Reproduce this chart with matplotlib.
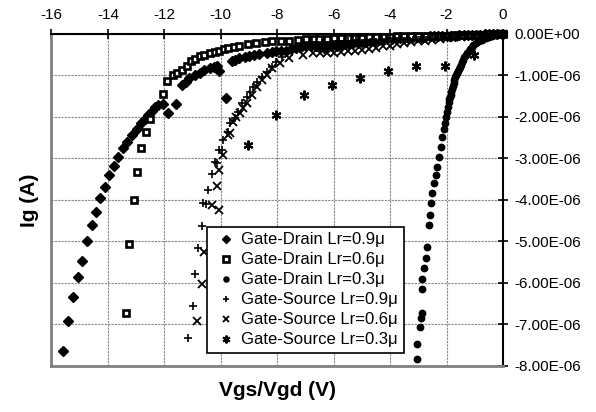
import matplotlib
matplotlib.use("Agg")
import matplotlib.pyplot as plt
from matplotlib.ticker import FuncFormatter, MultipleLocator

plt.rcParams['font.family'] = ['Liberation Sans', 'DejaVu Sans']

# gate current data, Ig in uA, V in volts
gd09_v = [-15.6, -15.4, -15.25, -15.07, -14.93, -14.75, -14.57, -14.43, -14.29, -14.1,
          -13.96, -13.79, -13.64, -13.46, -13.32, -13.14, -12.96, -12.82, -12.68, -12.57,
          -12.43, -12.32, -12.21, -12.04, -11.86, -11.6, -11.39, -11.25, -11.11, -10.93,
          -10.75, -10.58, -10.4, -10.25, -10.12, -10.05, -9.8, -9.62, -9.48, -9.34,
          -9.16, -8.99, -8.81, -8.63, -8.38, -8.2, -8.03, -7.85, -7.68, -7.5,
          -7.32, -7.15, -6.97, -6.8, -6.62, -6.5, -6.35, -6.2, -6.05, -5.9,
          -5.75, -5.6, -5.45, -5.3, -5.15, -5.0, -4.85, -4.7, -4.55, -4.4,
          -4.25, -4.1, -3.95, -3.8, -3.65, -3.5, -3.35, -3.2, -3.05, -2.9,
          -2.75, -2.6, -2.45, -2.3, -2.15, -2.0, -1.85, -1.7, -1.55, -1.4,
          -1.25, -1.1, -0.95, -0.8, -0.65, -0.5, -0.35, -0.2, -0.05]
gd09_i = [-7.64, -6.92, -6.34, -5.86, -5.47, -4.99, -4.6, -4.29, -3.95, -3.69,
          -3.4, -3.18, -2.96, -2.75, -2.6, -2.43, -2.29, -2.14, -2.05, -1.95,
          -1.86, -1.76, -1.71, -1.69, -1.9, -1.69, -1.24, -1.15, -1.07, -1.0,
          -0.95, -0.88, -0.83, -0.8, -0.78, -0.9, -1.55, -0.66, -0.62, -0.59,
          -0.56, -0.54, -0.51, -0.49, -0.47, -0.44, -0.42, -0.41, -0.4, -0.37,
          -0.35, -0.32, -0.3, -0.29, -0.28, -0.3, -0.33, -0.31, -0.29, -0.28,
          -0.27, -0.25, -0.24, -0.22, -0.21, -0.2, -0.19, -0.17, -0.16, -0.15,
          -0.14, -0.13, -0.12, -0.11, -0.1, -0.1, -0.09, -0.08, -0.08, -0.07,
          -0.07, -0.06, -0.06, -0.05, -0.05, -0.04, -0.04, -0.04, -0.03, -0.03,
          -0.03, -0.02, -0.02, -0.02, -0.01, -0.01, -0.01, 0.0, 0.0]

gd06_v = [-13.36, -13.25, -13.07, -12.96, -12.82, -12.64, -12.5, -12.06, -11.92, -11.71,
          -11.55, -11.39, -11.2, -11.04, -10.9, -10.75, -10.6, -10.4, -10.2, -10.05,
          -9.9, -9.76, -9.55, -9.34, -9.05, -8.74, -8.45, -8.17, -7.85, -7.57,
          -7.25, -6.97, -6.7, -6.51, -6.25, -6.0, -5.75, -5.5, -5.25, -5.0,
          -4.75, -4.5, -4.25, -4.0, -3.75, -3.5, -3.25, -3.0, -2.75, -2.5,
          -2.25, -2.0, -1.75, -1.5, -1.25, -1.0, -0.75, -0.5, -0.25, 0.0]
gd06_i = [-6.72, -5.06, -4.0, -3.33, -2.75, -2.36, -2.05, -1.45, -1.14, -1.0,
          -0.95, -0.88, -0.78, -0.66, -0.6, -0.54, -0.5, -0.47, -0.43, -0.4,
          -0.37, -0.35, -0.31, -0.28, -0.25, -0.23, -0.2, -0.18, -0.17, -0.16,
          -0.15, -0.13, -0.13, -0.13, -0.12, -0.11, -0.1, -0.1, -0.1, -0.09,
          -0.08, -0.08, -0.07, -0.07, -0.06, -0.06, -0.05, -0.05, -0.05, -0.04,
          -0.04, -0.04, -0.03, -0.03, -0.03, -0.02, -0.02, -0.01, -0.01, 0.0]

gd03_v = [-3.05, -3.05, -2.95, -2.91, -2.88, -2.86, -2.86, -2.8, -2.73, -2.68,
          -2.62, -2.59, -2.54, -2.51, -2.45, -2.38, -2.33, -2.27, -2.2, -2.15,
          -2.1, -2.06, -2.03, -1.99, -1.96, -1.92, -1.9, -1.88, -1.85, -1.83,
          -1.8, -1.78, -1.75, -1.72, -1.69, -1.66, -1.63, -1.6, -1.56, -1.53,
          -1.5, -1.46, -1.41, -1.37, -1.32, -1.27, -1.22, -1.17, -1.11, -1.05,
          -0.95, -0.85, -0.75, -0.62, -0.5, -0.38, -0.26, -0.15, -0.05]
gd03_i = [-7.83, -7.47, -7.06, -6.84, -6.72, -6.14, -5.9, -5.64, -5.4, -5.13,
          -4.6, -4.36, -4.07, -3.83, -3.59, -3.4, -3.2, -2.96, -2.72, -2.48,
          -2.3, -2.14, -2.0, -1.88, -1.76, -1.64, -1.58, -1.52, -1.47, -1.4,
          -1.32, -1.25, -1.18, -1.12, -1.05, -0.99, -0.94, -0.89, -0.84, -0.79,
          -0.75, -0.68, -0.62, -0.56, -0.51, -0.46, -0.41, -0.36, -0.31, -0.27,
          -0.22, -0.18, -0.14, -0.1, -0.07, -0.04, -0.02, -0.01, 0.0]

gs09_v = [-11.17, -11.0, -10.92, -10.82, -10.68, -10.64, -10.54, -10.46, -10.33, -10.19,
          -10.15, -10.05, -9.97, -9.93, -9.75, -9.68, -9.5, -9.4, -9.26, -9.08,
          -8.97, -8.86, -8.72, -8.54, -8.37, -8.2, -8.03, -7.82, -7.47, -7.2,
          -6.98, -6.7, -6.4, -6.1, -5.8, -5.5, -5.2, -4.9, -4.6, -4.3,
          -4.0, -3.7, -3.4, -3.1, -2.8, -2.5, -2.2, -1.9, -1.6, -1.3,
          -1.0, -0.75, -0.5, -0.25, 0.0]
gs09_i = [-7.33, -6.55, -5.78, -5.16, -4.63, -4.07, -4.1, -3.76, -3.38, -3.08,
          -3.11, -2.8, -2.8, -2.55, -2.36, -2.14, -2.02, -1.88, -1.66, -1.52,
          -1.4, -1.28, -1.16, -1.04, -0.92, -0.8, -0.67, -0.55, -0.43, -0.37,
          -0.31, -0.27, -0.22, -0.2, -0.18, -0.17, -0.15, -0.14, -0.13, -0.12,
          -0.11, -0.1, -0.09, -0.08, -0.07, -0.06, -0.06, -0.05, -0.04, -0.035,
          -0.03, -0.02, -0.02, -0.01, 0.0]

gs06_v = [-10.86, -10.68, -10.61, -10.33, -10.05, -10.15, -10.05, -9.93, -9.75, -9.68,
          -9.58, -9.45, -9.33, -9.2, -9.08, -8.9, -8.72, -8.54, -8.37, -8.17,
          -7.92, -7.57, -7.1, -6.75, -6.5, -6.25, -6.0, -5.75, -5.5, -5.25,
          -5.0, -4.75, -4.5, -4.25, -4.0, -3.75, -3.5, -3.25, -3.0, -2.75,
          -2.5, -2.25, -2.0, -1.75, -1.5, -1.25, -1.0, -0.75, -0.5, -0.25,
          0.0]
gs06_i = [-6.92, -6.02, -5.25, -4.12, -4.24, -3.66, -3.28, -2.92, -2.43, -2.39,
          -2.12, -2.0, -1.9, -1.78, -1.66, -1.47, -1.28, -1.11, -0.99, -0.82,
          -0.7, -0.58, -0.5, -0.47, -0.46, -0.46, -0.45, -0.44, -0.42, -0.4,
          -0.38, -0.36, -0.33, -0.3, -0.28, -0.25, -0.22, -0.2, -0.18, -0.16,
          -0.14, -0.12, -0.1, -0.08, -0.07, -0.06, -0.05, -0.03, -0.02, -0.01,
          0.0]

gs03_v = [-9.05, -8.03, -7.07, -6.05, -5.06, -4.07, -3.08, -2.06, -1.03, 0.0]
gs03_i = [-2.67, -1.95, -1.47, -1.23, -1.06, -0.89, -0.77, -0.77, -0.5, 0.0]

labels = ['Gate-Drain Lr=0.9μ', 'Gate-Drain Lr=0.6μ', 'Gate-Drain Lr=0.3μ',
          'Gate-Source Lr=0.9μ', 'Gate-Source Lr=0.6μ', 'Gate-Source Lr=0.3μ']


def amps(vals):
    return [v * 1e-6 for v in vals]


fig = plt.figure(figsize=(5.96, 4.12), dpi=100)
ax = fig.add_axes([0.0864, 0.1117, 0.7576, 0.806])

kw = dict(ls='none', clip_on=False)
ax.plot(gd09_v, amps(gd09_i), marker='D', ms=5.3, color='black', label=labels[0], **kw)
ax.plot(gd06_v, amps(gd06_i), marker='s', ms=4.6, mfc='white', mec='black',
        mew=1.9, label=labels[1], **kw)
ax.plot(gd03_v, amps(gd03_i), marker='o', ms=4.6, color='black', label=labels[2], **kw)
ax.plot(gs09_v, amps(gs09_i), marker='+', ms=6, mew=1.2, color='black', label=labels[3], **kw)
ax.plot(gs06_v, amps(gs06_i), marker='x', ms=5.5, mew=1.3, color='black', label=labels[4], **kw)
ax.plot(gs03_v, amps(gs03_i), marker=(6, 2, 0), ms=7, mew=1.5, color='black',
        label=labels[5], **kw)

ax.set_xlim(-16, 0)
ax.set_ylim(-8e-6, 0)
ax.xaxis.set_major_locator(MultipleLocator(2))
ax.yaxis.set_major_locator(MultipleLocator(1e-6))
ax.xaxis.set_major_formatter(FuncFormatter(lambda v, p: '%d' % round(v)))
ax.yaxis.set_major_formatter(FuncFormatter(lambda v, p: '{:.2E}'.format(0.0 if abs(v) < 1e-12 else v)))

ax.xaxis.tick_top()
ax.yaxis.tick_right()
ax.tick_params(axis='both', direction='inout', length=7, width=1.2, labelsize=11, color='black')
ax.tick_params(axis='x', pad=5)
ax.tick_params(axis='y', pad=5)

ax.grid(True, color='#888888', ls=(0, (2, 1)), lw=0.8)
ax.set_axisbelow(True)

for side in ['left', 'bottom']:
    ax.spines[side].set_color('#808080')
    ax.spines[side].set_linewidth(2)
for side in ['top', 'right']:
    ax.spines[side].set_color('black')
    ax.spines[side].set_linewidth(1.5)

ax.xaxis.set_label_position('bottom')
ax.yaxis.set_label_position('left')
ax.set_xlabel('Vgs/Vgd (V)', fontsize=15, fontweight='bold', labelpad=11)
ax.set_ylabel('Ig (A)', fontsize=15, fontweight='bold', labelpad=9)

leg = ax.legend(loc='upper left', bbox_to_anchor=(0.344, 0.42), borderaxespad=0,
                fontsize=12, frameon=True, fancybox=False, handlelength=1.6,
                handletextpad=0.1, labelspacing=0.3, borderpad=0.35, markerscale=0.8)
leg.get_frame().set_edgecolor('black')
leg.get_frame().set_linewidth(1.2)
leg.get_frame().set_alpha(1)

fig.savefig('out.png', dpi=100)
